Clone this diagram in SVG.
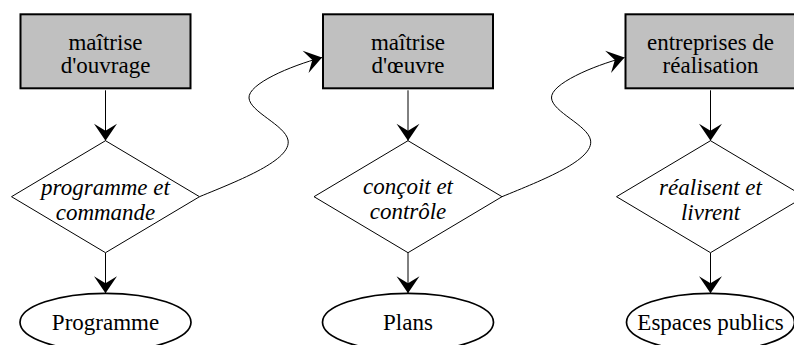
<svg xmlns="http://www.w3.org/2000/svg" width="794" height="345" viewBox="0 0 794 345">
<style>
.box{fill:#c0c0c0;stroke:#000;stroke-width:2}
.dia{fill:#fff;stroke:#000;stroke-width:1}
.ell{fill:#fff;stroke:#000;stroke-width:1.7}
.t{font-family:'Liberation Serif','Times New Roman',serif;font-size:23px;fill:#000;text-anchor:middle}
.i{font-style:italic}
.edge{fill:none;stroke:#000;stroke-width:1}
</style>
<defs>
<marker id="ah" markerUnits="userSpaceOnUse" viewBox="-20 -15 22 30" refX="0" refY="0" markerWidth="22" markerHeight="30" orient="auto">
<path d="M0,0 L-17,-11.5 L-10,0 L-17,11.5 Z" fill="#000"/>
</marker>
</defs>
<rect width="794" height="345" fill="#fff"/>
<g id="edges">
<path class="edge" marker-end="url(#ah)" d="M105.5,90.3 L105.5,140.7"/>
<path class="edge" marker-end="url(#ah)" d="M105.5,252.7 L105.5,293.3"/>
<path class="edge" marker-end="url(#ah)" d="M408,90.3 L408,140.7"/>
<path class="edge" marker-end="url(#ah)" d="M408,252.7 L408,293.3"/>
<path class="edge" marker-end="url(#ah)" d="M710.5,90.3 L710.5,140.7"/>
<path class="edge" marker-end="url(#ah)" d="M710.5,252.7 L710.5,293.3"/>
<path class="edge" marker-end="url(#ah)" d="M199.5,196.7 C240,180 292,160 288,140 C285,125 250,112 249,98 C248,84 290,66 322,57.5"/>
<path class="edge" marker-end="url(#ah)" d="M502,196.7 C542.5,180 594.5,160 590.5,140 C587.5,125 552.5,112 551.5,98 C550.5,84 592.5,66 624.5,57.5"/>
</g>
<g id="moa">
<rect class="box" x="20.5" y="14.3" width="170" height="74"/>
<text class="t" x="105.5" y="50">maîtrise</text>
<text class="t" x="105.5" y="73">d'ouvrage</text>
</g>
<g id="moe">
<rect class="box" x="323" y="14.3" width="170" height="74"/>
<text class="t" x="408" y="50">maîtrise</text>
<text class="t" x="408" y="73">d'œuvre</text>
</g>
<g id="entreprises">
<rect class="box" x="625.5" y="14.3" width="170" height="74"/>
<text class="t" x="710.5" y="50">entreprises de</text>
<text class="t" x="710.5" y="73">réalisation</text>
</g>
<g id="programme-commande">
<polygon class="dia" points="105.5,140.7 199.5,196.7 105.5,252.7 11.5,196.7"/>
<text class="t i" x="105.5" y="195">programme et</text>
<text class="t i" x="105.5" y="220">commande</text>
</g>
<g id="concoit-controle">
<polygon class="dia" points="408,140.7 502,196.7 408,252.7 314,196.7"/>
<text class="t i" x="408" y="194">conçoit et</text>
<text class="t i" x="408" y="219">contrôle</text>
</g>
<g id="realisent-livrent">
<polygon class="dia" points="710.5,140.7 804.5,196.7 710.5,252.7 616.5,196.7"/>
<text class="t i" x="710.5" y="195">réalisent et</text>
<text class="t i" x="710.5" y="220">livrent</text>
</g>
<g id="programme">
<ellipse class="ell" cx="105.5" cy="322.3" rx="85.5" ry="29"/>
<text class="t" x="105.5" y="330">Programme</text>
</g>
<g id="plans">
<ellipse class="ell" cx="408" cy="322.3" rx="85.5" ry="29"/>
<text class="t" x="408" y="330">Plans</text>
</g>
<g id="espaces-publics">
<ellipse class="ell" cx="710.5" cy="322.3" rx="84" ry="29"/>
<text class="t" x="710.5" y="330">Espaces publics</text>
</g>
</svg>
